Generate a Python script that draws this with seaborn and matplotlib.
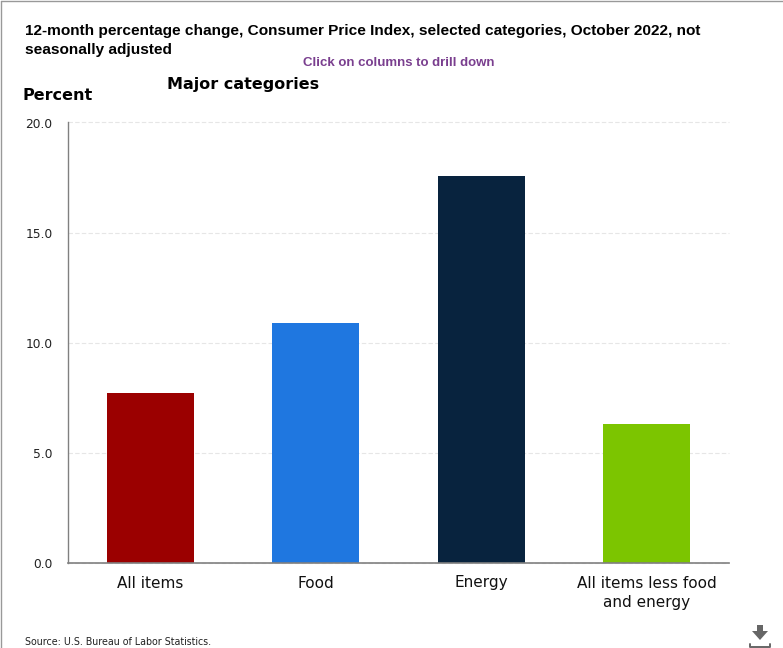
import matplotlib
matplotlib.use("Agg")
import matplotlib.pyplot as plt
from matplotlib.lines import Line2D
from matplotlib.patches import Polygon
import pandas as pd
import seaborn as sns

# Values
categories = ["All items", "Food", "Energy", "All items less food\nand energy"]
values = [7.7, 10.9, 17.55, 6.3]
bar_colors = ["#9b0000", "#1f77e0", "#08233e", "#7cc500"]
y_ticks = [0, 5, 10, 15, 20]

W, H = 783, 648

sns.set_theme(style="white")
plt.rcParams["font.family"] = ["DejaVu Sans"]

df = pd.DataFrame({"category": categories, "percent": values})

fig = plt.figure(figsize=(W / 100, H / 100), dpi=100)
ax = fig.add_axes([68 / W, (H - 563) / H, 661 / W, 440.5 / H])

sns.barplot(data=df, x="category", y="percent", hue="category", palette=bar_colors,
            legend=False, width=0.525, saturation=1, linewidth=0, ax=ax)

ax.set_ylim(0, 20)
ax.set_xlim(-0.5, 3.5)
ax.set_yticks(y_ticks)
ax.set_yticklabels([f"{t:.1f}" for t in y_ticks], fontsize=8.8, color="#222222")
ax.tick_params(axis="x", labelsize=11, length=0, pad=9, colors="#111111")
ax.tick_params(axis="y", length=0, pad=11)
for label in ax.get_xticklabels():
    label.set_linespacing(1.35)
ax.set_xlabel("")
ax.set_ylabel("")

# dashed light gridlines behind the bars
ax.grid(axis="y", color="#e6e6e6", linestyle=(0, (4, 2)), linewidth=0.8)
ax.set_axisbelow(True)
for line in ax.get_ygridlines():
    line.set_clip_on(False)

sns.despine(ax=ax)
ax.spines["left"].set_color("#808080")
ax.spines["left"].set_linewidth(1)
ax.spines["bottom"].set_color("#808080")
ax.spines["bottom"].set_linewidth(1.2)

# text around the plot, placed in pixels from the top left
def put(x, y, s, **kw):
    fig.text(x / W, 1 - y / H, s, va="center", **kw)

put(25, 31, "12-month percentage change, Consumer Price Index, selected categories, October 2022, not",
    family="Liberation Sans", fontsize=11.05, fontweight="bold", color="black")
put(25, 50, "seasonally adjusted",
    family="Liberation Sans", fontsize=11.05, fontweight="bold", color="black")
put(399, 63, "Click on columns to drill down", ha="center",
    family="Liberation Sans", fontsize=9.5, fontweight="bold", color="#7a3f8f")
put(167, 85, "Major categories", family="DejaVu Sans", fontsize=11.5, fontweight="bold", color="black")
put(22, 95, "Percent", family="DejaVu Sans", fontsize=11.5, fontweight="bold", color="black")
put(25, 642, "Source: U.S. Bureau of Labor Statistics.", family="DejaVu Sans", fontsize=6.85, color="#222222")

# page border on top and left
border = "#999999"
fig.add_artist(Line2D([1 / W, 1 / W], [0, 1 - 1 / H], color=border, lw=1))
fig.add_artist(Line2D([1 / W, 1], [1 - 1 / H, 1 - 1 / H], color=border, lw=1))

# download icon
icon = "#666666"
arrow = [(757, 625), (763, 625), (763, 631), (768, 631), (760, 640), (752, 631), (757, 631)]
fig.add_artist(Polygon([(x / W, 1 - y / H) for x, y in arrow], closed=True, color=icon,
                       transform=fig.transFigure, lw=0))
fig.add_artist(Line2D([750 / W, 750 / W, 770 / W, 770 / W],
                      [1 - 644 / H, 1 - 647 / H, 1 - 647 / H, 1 - 644 / H], color=icon, lw=1.4))

fig.savefig("out.png", dpi=100)
